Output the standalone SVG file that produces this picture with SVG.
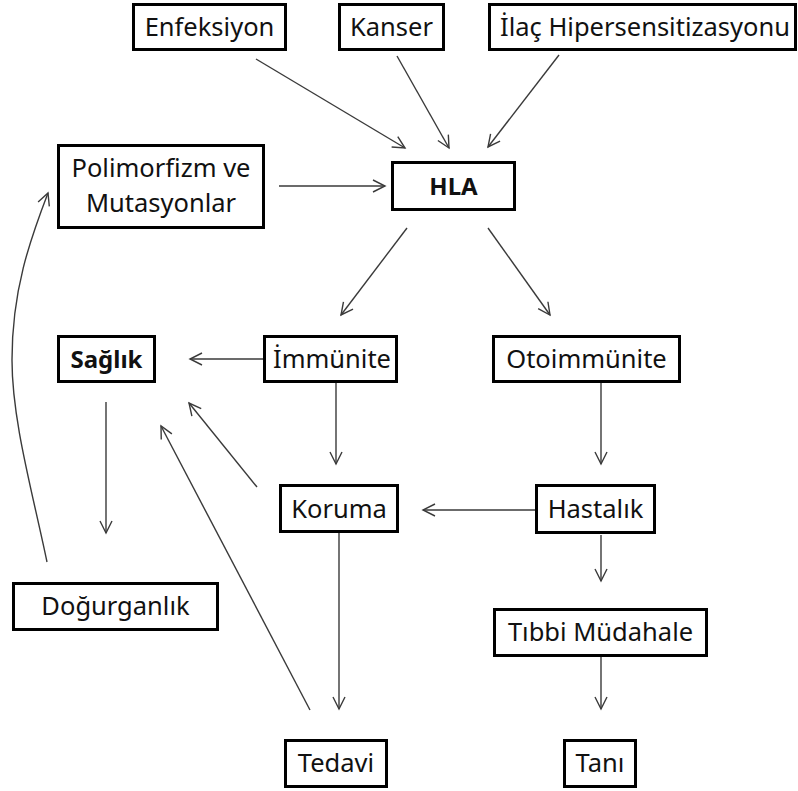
<svg xmlns="http://www.w3.org/2000/svg" width="798" height="791" viewBox="0 0 798 791">
  <style>
    .box { fill: #ffffff; stroke: #000000; stroke-width: 3; }
    .lbl { font-family: "Noto Sans", "Open Sans", sans-serif; font-size: 25.5px; fill: #111111; text-anchor: middle; }
    .bold { font-weight: bold; font-size: 24px; }
    .edge { fill: none; stroke: #3a3a3a; stroke-width: 1.4; marker-end: url(#head); }
  </style>
  <defs>
    <marker id="head" viewBox="-14 -8 16 16" refX="0" refY="0" markerWidth="16" markerHeight="16" markerUnits="userSpaceOnUse" orient="auto" overflow="visible">
      <path d="M-12,-6 L0,0 L-12,6" fill="none" stroke="#3a3a3a" stroke-width="1.4"/>
    </marker>
  </defs>
  <rect width="798" height="791" fill="#ffffff"/>

  <g id="connectors">
    <line class="edge" x1="256" y1="59" x2="405" y2="148"/>
    <line class="edge" x1="397" y1="56" x2="449" y2="148"/>
    <line class="edge" x1="559" y1="55" x2="488" y2="147"/>
    <line class="edge" x1="279" y1="186" x2="385" y2="186"/>
    <line class="edge" x1="407" y1="228" x2="341" y2="315"/>
    <line class="edge" x1="488" y1="228" x2="550" y2="315"/>
    <line class="edge" x1="263" y1="359" x2="190" y2="359"/>
    <line class="edge" x1="336" y1="383" x2="336" y2="464"/>
    <line class="edge" x1="601" y1="383" x2="601" y2="464"/>
    <line class="edge" x1="535" y1="510" x2="423" y2="510"/>
    <line class="edge" x1="257" y1="487" x2="189" y2="403"/>
    <line class="edge" x1="310" y1="710" x2="161" y2="426"/>
    <line class="edge" x1="339" y1="533" x2="339" y2="709"/>
    <line class="edge" x1="106" y1="402" x2="106" y2="533"/>
    <line class="edge" x1="601" y1="535" x2="601" y2="581"/>
    <line class="edge" x1="601" y1="657" x2="601" y2="709"/>
    <path class="edge" d="M47,562 C32,490 12,420 12,360 C12,290 30,240 48,193"/>
  </g>

  <g id="enfeksiyon">
    <rect class="box" x="133.5" y="4.5" width="152" height="45"/>
    <text class="lbl" x="209.5" y="36">Enfeksiyon</text>
  </g>
  <g id="kanser">
    <rect class="box" x="339.5" y="4.5" width="104" height="45"/>
    <text class="lbl" x="391.5" y="36">Kanser</text>
  </g>
  <g id="ilac">
    <rect class="box" x="489.5" y="4.5" width="306" height="45"/>
    <text class="lbl" x="645" y="36">İlaç Hipersensitizasyonu</text>
  </g>
  <g id="polimorfizm">
    <rect class="box" x="58.5" y="145.5" width="205" height="82"/>
    <text class="lbl" x="161" y="177">Polimorfizm ve</text>
    <text class="lbl" x="161" y="212">Mutasyonlar</text>
  </g>
  <g id="hla">
    <rect class="box" x="392.5" y="162.5" width="122" height="47"/>
    <text class="lbl bold" x="453.5" y="195">HLA</text>
  </g>
  <g id="saglik">
    <rect class="box" x="58.5" y="336.5" width="96" height="45"/>
    <text class="lbl bold" x="106.5" y="368">Sağlık</text>
  </g>
  <g id="immunite">
    <rect class="box" x="264.5" y="336.5" width="132" height="45"/>
    <text class="lbl" x="332" y="368">İmmünite</text>
  </g>
  <g id="otoimmunite">
    <rect class="box" x="493.5" y="336.5" width="186" height="45"/>
    <text class="lbl" x="586.5" y="368">Otoimmünite</text>
  </g>
  <g id="koruma">
    <rect class="box" x="280.5" y="485.5" width="117" height="46"/>
    <text class="lbl" x="339" y="518">Koruma</text>
  </g>
  <g id="hastalik">
    <rect class="box" x="536.5" y="485.5" width="118" height="47"/>
    <text class="lbl" x="595.5" y="518">Hastalık</text>
  </g>
  <g id="dogurganlik">
    <rect class="box" x="13.5" y="583.5" width="204" height="46"/>
    <text class="lbl" x="115.5" y="615">Doğurganlık</text>
  </g>
  <g id="tibbi-mudahale">
    <rect class="box" x="494.5" y="609.5" width="212" height="46"/>
    <text class="lbl" x="600.5" y="641">Tıbbi Müdahale</text>
  </g>
  <g id="tedavi">
    <rect class="box" x="285.5" y="740.5" width="101" height="46"/>
    <text class="lbl" x="336" y="772">Tedavi</text>
  </g>
  <g id="tani">
    <rect class="box" x="564.5" y="740.5" width="71" height="46"/>
    <text class="lbl" x="600" y="772">Tanı</text>
  </g>
</svg>
